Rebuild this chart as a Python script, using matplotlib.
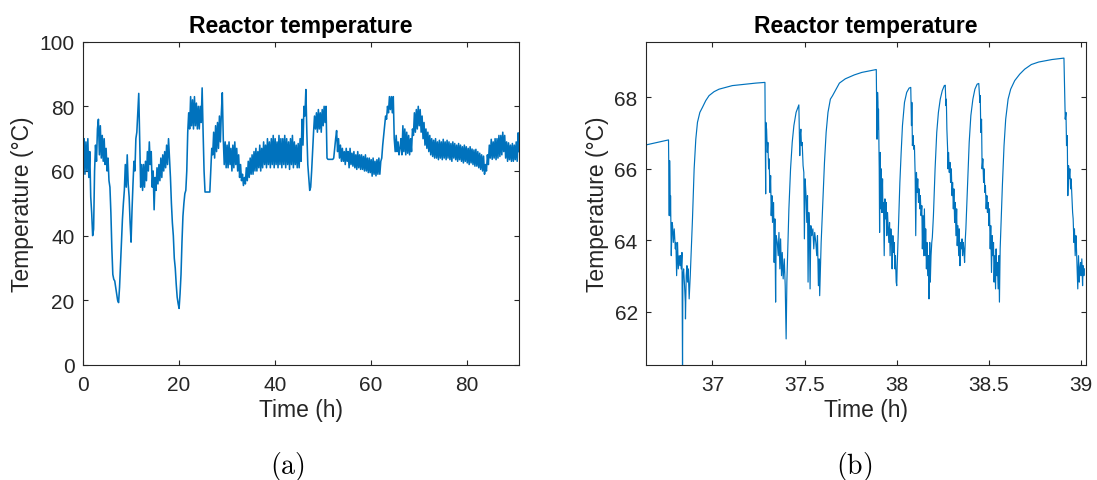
import numpy as np
import matplotlib
matplotlib.use("Agg")
import matplotlib.pyplot as plt

plt.rcParams['font.family'] = ['Liberation Sans', 'DejaVu Sans']
plt.rcParams['mathtext.fontset'] = 'cm'

LINE_COLOR = "#0072BD"
AXIS_COLOR = "#262626"

TITLE = "Reactor temperature"
XLABEL = "Time (h)"
YLABEL = "Temperature (°C)"
CAPTIONS = [r"$\mathrm{(a)}$", r"$\mathrm{(b)}$"]

# (a) whole run, one sample every 0.2 h (10 values = 2 h per row)
full_step = 0.2
full_temp = [
    64, 70, 59, 69, 60, 70, 58, 66, 52, 47,
    40, 42, 60, 68, 63, 73, 76, 65, 74, 64,
    71, 63, 70, 62, 67, 60, 64, 57, 55, 47,
    36, 28, 26.5, 26, 24, 22, 20, 19.3, 24, 31,
    38, 45, 50, 54, 62, 55, 65, 56, 52, 44,
    38, 48, 56, 63, 60, 70, 72, 78, 84, 70,
    55, 62, 54, 62, 55, 63, 57, 66, 60, 69,
    62, 66, 55, 60, 48, 58, 54, 61, 56, 62,
    57, 64, 58, 65, 60, 66, 61, 68, 62, 70,
    64, 58, 50, 44, 40, 33, 30, 25, 21, 19,
    17.5, 22, 28, 38, 46, 50, 53, 54, 60, 72,
    78, 73, 83, 74, 82, 73, 83, 74, 81, 73,
    80, 73, 80, 75, 85.7, 72, 60, 53.5, 53.5, 53.5,
    53.5, 53.5, 53.5, 60, 67, 65, 72, 64, 74, 66,
    75, 67, 77, 69, 78, 84.2, 70, 62, 69, 61,
    68, 61, 69, 62, 67, 60, 68, 61, 69, 62,
    67, 60, 65, 58, 62, 57, 59, 55.5, 58, 56,
    61, 57, 63, 58, 64, 59, 65, 59, 66, 60,
    67, 60, 66, 61, 68, 60, 67, 61, 69, 62,
    68, 61, 70, 62, 69, 61, 70, 62, 71, 61,
    70, 62, 69, 61, 71, 62, 70, 61, 70, 62,
    71, 61, 70, 62, 69, 60.5, 70, 62, 71, 61,
    69, 62, 68, 61, 68.5, 61, 70, 63, 76, 68,
    80, 77, 85.2, 72, 62, 58, 54, 55, 60, 66,
    72, 77, 73, 78, 72, 79, 73, 78, 72, 79,
    74, 80, 75, 80, 64, 63.6, 63.6, 63.6, 63.6, 63.6,
    63.6, 64, 67, 70, 72.5, 66, 70, 64, 68, 63,
    67, 63, 66, 62, 67, 63, 66, 61, 67, 62,
    65.5, 61.5, 66, 61, 65, 60.5, 66, 61, 65, 60.5,
    65, 60.5, 64.5, 60, 65, 60, 64, 59.5, 64, 59.5,
    63.5, 58.4, 64, 59, 63, 58.5, 63.5, 59, 64, 59,
    63, 64, 68, 71, 74, 77, 76, 80, 78, 83,
    79, 83, 78, 83, 70, 66, 71, 66, 69, 65,
    67, 70, 65, 74, 66, 73, 65, 72, 65.5, 71,
    65, 70, 66, 73, 71, 78, 72, 79, 73, 80,
    74, 79, 72, 77, 70, 75, 68, 73, 67, 72,
    66, 71, 65, 70, 64.5, 69.5, 64, 70, 64, 69,
    63.5, 69.5, 64, 69, 63.5, 69.8, 64, 69, 63.5, 69.5,
    64, 69, 63.5, 68.5, 63, 69, 64, 68.5, 63.5, 68,
    63, 68.5, 63.5, 68, 63, 67.5, 62.5, 68, 63, 67.5,
    62.5, 67, 62, 67.5, 62.5, 66.8, 62, 66.5, 61.5, 66.7,
    61.5, 66, 61, 65.5, 60.5, 65, 60, 64.6, 59, 62,
    60, 65, 62, 68, 64, 69.8, 63.6, 69, 64, 70,
    63.5, 70, 64, 71, 64.5, 71, 65, 72, 66, 71,
    64, 69, 63, 68.7, 63.5, 68, 63, 68.5, 63, 68,
    63.5, 69, 63, 71.8, 66,
]
full_xticks = [0, 20, 40, 60, 80]
full_yticks = [0, 20, 40, 60, 80, 100]

# (b) close-up 36.6 - 39 h, (time h, temperature) pairs
zoom_samples = [
    (36.640, 66.67), (36.700, 66.74), (36.762, 66.81),
    (36.766, 64.69), (36.768, 66.23), (36.770, 65.62), (36.772, 64.69), (36.773, 65.25),
    (36.777, 63.57), (36.781, 64.50), (36.784, 64.41), (36.788, 63.94), (36.793, 64.32),
    (36.799, 63.76), (36.802, 63.94), (36.806, 63.01), (36.811, 63.94), (36.815, 63.20),
    (36.820, 63.57), (36.824, 63.29), (36.827, 63.57), (36.831, 63.20), (36.835, 63.66),
    (36.838, 60.30), (36.840, 63.01), (36.844, 63.20), (36.849, 62.73), (36.853, 62.27),
    (36.854, 61.80), (36.858, 63.01), (36.862, 63.29), (36.865, 62.83), (36.869, 63.20),
    (36.874, 62.36), (36.880, 63.01),
    (36.892, 64.60), (36.901, 66.00), (36.910, 66.83), (36.919, 67.30), (36.932, 67.58),
    (36.946, 67.72), (36.964, 67.91), (36.982, 68.05), (37.009, 68.16), (37.036, 68.23),
    (37.072, 68.28), (37.108, 68.33), (37.181, 68.37), (37.235, 68.40), (37.285, 68.42),
    (37.289, 65.30), (37.290, 67.30), (37.294, 67.11), (37.298, 66.46), (37.301, 66.74),
    (37.305, 66.00), (37.308, 66.28), (37.312, 65.34), (37.316, 65.81), (37.319, 64.69),
    (37.323, 65.25), (37.326, 64.50), (37.332, 65.06), (37.335, 63.38), (37.339, 64.60),
    (37.343, 62.27), (37.346, 64.13), (37.352, 63.94), (37.357, 63.57), (37.361, 64.22),
    (37.366, 63.20), (37.370, 64.04), (37.375, 63.01), (37.379, 63.66), (37.384, 62.92),
    (37.390, 63.48), (37.395, 62.73), (37.400, 61.24), (37.404, 62.83),
    (37.406, 63.20), (37.415, 64.88), (37.424, 66.00), (37.433, 66.74), (37.442, 67.21),
    (37.454, 67.58), (37.469, 67.79),
    (37.474, 66.37), (37.476, 66.93), (37.480, 67.11), (37.483, 66.65), (37.487, 66.74),
    (37.492, 66.09), (37.496, 65.90), (37.499, 64.04), (37.503, 65.72), (37.508, 65.25),
    (37.512, 64.50), (37.516, 65.25), (37.519, 62.83), (37.523, 64.78), (37.526, 64.41),
    (37.530, 62.64), (37.534, 64.41), (37.539, 64.13), (37.545, 64.32), (37.550, 63.76),
    (37.555, 64.22), (37.561, 63.94), (37.566, 63.57), (37.570, 64.13), (37.575, 62.73),
    (37.579, 63.48), (37.582, 62.45), (37.586, 63.20),
    (37.590, 63.94), (37.599, 65.06), (37.608, 66.18), (37.617, 67.02), (37.627, 67.58),
    (37.640, 67.95), (37.652, 68.05), (37.689, 68.40), (37.721, 68.52), (37.770, 68.63),
    (37.811, 68.70), (37.850, 68.74), (37.889, 68.78),
    (37.893, 66.83), (37.896, 68.14), (37.898, 67.86), (37.900, 67.11), (37.901, 67.67),
    (37.905, 66.00), (37.907, 64.22), (37.910, 66.46), (37.914, 64.88), (37.916, 66.00),
    (37.919, 64.78), (37.923, 65.72), (37.925, 64.78), (37.928, 65.06), (37.932, 63.57),
    (37.936, 65.16), (37.939, 64.60), (37.943, 65.06), (37.946, 64.13), (37.950, 64.78),
    (37.954, 64.32), (37.957, 63.94), (37.961, 64.50), (37.964, 63.57), (37.968, 64.32),
    (37.972, 63.94), (37.975, 63.20), (37.979, 64.13), (37.982, 63.66), (37.986, 63.94),
    (37.990, 63.20), (37.993, 63.57), (37.997, 62.83), (38.000, 62.73),
    (38.002, 63.20), (38.009, 64.32), (38.017, 65.62), (38.024, 66.46), (38.031, 67.21),
    (38.042, 67.86), (38.054, 68.14), (38.067, 68.26), (38.076, 68.28),
    (38.080, 67.21), (38.082, 67.86), (38.085, 66.65), (38.089, 66.93), (38.092, 66.55),
    (38.096, 66.65), (38.100, 65.81), (38.103, 64.13), (38.107, 65.90), (38.110, 65.34),
    (38.114, 65.72), (38.118, 65.06), (38.121, 65.44), (38.125, 64.88), (38.128, 65.25),
    (38.132, 64.69), (38.136, 64.97), (38.139, 63.76), (38.143, 64.69), (38.146, 63.57),
    (38.150, 64.88), (38.154, 63.57), (38.157, 64.32), (38.161, 63.20), (38.164, 63.94),
    (38.168, 63.01), (38.172, 63.57), (38.175, 62.36), (38.179, 63.94), (38.182, 62.83),
    (38.186, 63.57), (38.190, 63.94), (38.193, 64.08),
    (38.199, 64.69), (38.208, 66.00), (38.217, 67.02), (38.226, 67.58), (38.236, 67.95),
    (38.247, 68.19), (38.258, 68.33), (38.263, 68.34),
    (38.267, 67.77), (38.269, 67.95), (38.272, 67.11), (38.276, 66.55), (38.278, 66.00),
    (38.281, 66.46), (38.285, 65.90), (38.289, 66.18), (38.292, 65.62), (38.296, 66.00),
    (38.300, 65.25), (38.303, 65.62), (38.307, 64.88), (38.310, 65.44), (38.314, 64.50),
    (38.318, 65.06), (38.321, 64.13), (38.325, 64.88), (38.328, 63.85), (38.332, 64.41),
    (38.336, 63.57), (38.339, 64.32), (38.343, 63.29), (38.346, 63.94), (38.350, 63.76),
    (38.354, 64.04), (38.357, 63.57), (38.361, 63.94), (38.364, 63.76), (38.368, 63.38),
    (38.372, 64.04),
    (38.375, 64.32), (38.384, 65.53), (38.393, 66.74), (38.402, 67.49), (38.413, 67.95),
    (38.424, 68.23), (38.436, 68.37), (38.445, 68.39),
    (38.451, 67.86), (38.453, 68.05), (38.456, 67.02), (38.460, 67.39), (38.463, 66.00),
    (38.467, 66.28), (38.471, 65.62), (38.474, 66.00), (38.478, 65.34), (38.481, 65.53),
    (38.485, 64.88), (38.489, 65.25), (38.492, 64.78), (38.496, 65.06), (38.500, 64.41),
    (38.503, 64.88), (38.507, 63.76), (38.510, 64.41), (38.514, 63.10), (38.518, 64.13),
    (38.521, 63.57), (38.525, 63.94), (38.528, 62.83), (38.532, 63.57), (38.536, 62.64),
    (38.539, 63.76), (38.543, 63.01), (38.546, 63.38), (38.550, 62.64), (38.554, 63.57),
    (38.557, 62.27), (38.561, 63.76),
    (38.564, 64.22), (38.573, 65.53), (38.582, 66.65), (38.591, 67.39), (38.604, 67.95),
    (38.618, 68.23), (38.640, 68.47), (38.667, 68.65), (38.694, 68.79), (38.730, 68.92),
    (38.770, 68.99), (38.842, 69.06), (38.907, 69.10),
    (38.912, 67.86), (38.914, 67.39), (38.918, 67.58), (38.921, 66.65), (38.925, 66.93),
    (38.928, 65.25), (38.932, 66.09), (38.935, 65.72), (38.939, 66.00), (38.943, 65.44),
    (38.946, 65.72), (38.950, 65.25), (38.954, 64.78), (38.957, 64.60), (38.961, 63.94),
    (38.964, 64.32), (38.968, 63.57), (38.972, 64.13), (38.975, 63.76), (38.979, 63.10),
    (38.982, 62.64), (38.986, 63.57), (38.990, 62.83), (38.993, 63.20), (38.997, 63.38),
    (39.000, 63.01), (39.004, 63.48), (39.008, 62.73), (39.011, 63.29), (39.015, 63.01),
    (39.018, 63.20),
]
zoom_xticks = [37, 37.5, 38, 38.5, 39]
zoom_xticklabels = ["37", "37.5", "38", "38.5", "39"]
zoom_yticks = [62, 64, 66, 68]


def style_axes(ax):
    for s in ax.spines.values():
        s.set_color(AXIS_COLOR)
        s.set_linewidth(0.8)
    ax.tick_params(direction="in", length=3.6, width=0.8, top=True, right=True,
                   labelsize=15, colors=AXIS_COLOR)
    ax.tick_params(axis="x", pad=7)
    ax.tick_params(axis="y", pad=6)
    ax.set_title(TITLE, fontsize=16.5, fontweight="bold", pad=7)
    ax.set_xlabel(XLABEL, fontsize=16.5, color=AXIS_COLOR, labelpad=3)
    ax.set_ylabel(YLABEL, fontsize=16.5, color=AXIS_COLOR, labelpad=4)


fig = plt.figure(figsize=(10.97, 4.81), dpi=100)

ax1 = fig.add_axes([0.0757, 0.2391, 0.3975, 0.6722])
full_time = np.arange(len(full_temp)) * full_step
ax1.plot(full_time, full_temp, color=LINE_COLOR, lw=1.15)
ax1.set_xlim(0, full_time[-1])
ax1.set_ylim(0, 100)
ax1.set_xticks(full_xticks)
ax1.set_yticks(full_yticks)
style_axes(ax1)

ax2 = fig.add_axes([0.5889, 0.2391, 0.4008, 0.6722])
zoom_time = [p[0] for p in zoom_samples]
zoom_temp = [p[1] for p in zoom_samples]
ax2.plot(zoom_time, zoom_temp, color=LINE_COLOR, lw=0.85)
ax2.set_xlim(36.64, 39.025)
ax2.set_ylim(60.51, 69.56)
ax2.set_xticks(zoom_xticks)
ax2.set_xticklabels(zoom_xticklabels)
ax2.set_yticks(zoom_yticks)
style_axes(ax2)

fig.text(0.262, 0.03, CAPTIONS[0], ha="center", va="center", fontsize=20)
fig.text(0.7787, 0.03, CAPTIONS[1], ha="center", va="center", fontsize=20)

fig.savefig("out.png", dpi=100)
